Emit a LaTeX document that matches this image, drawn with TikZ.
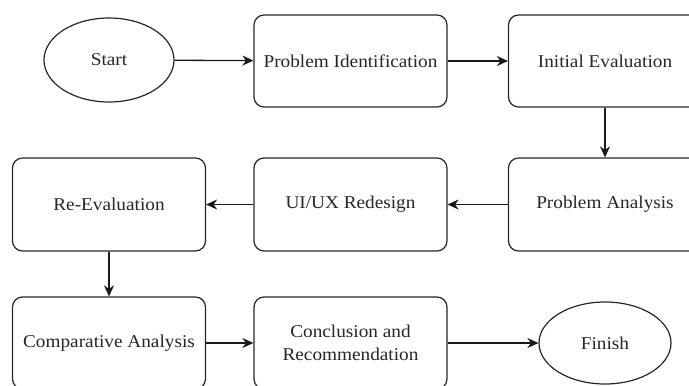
\documentclass[tikz,border=0pt]{standalone}
\usepackage{fontspec}
\setmainfont{Liberation Serif}[FakeStretch=1.07]
\usetikzlibrary{shapes.geometric,arrows.meta}
\tikzset{
  x=1pt,y=-1pt,
  base/.style={draw=black!85,line width=1.2pt,font=\fontsize{18}{23}\selectfont,text=black!85,align=center,inner sep=0pt},
  procbox/.style={base,rectangle,rounded corners=10pt,minimum width=193pt,minimum height=92pt},
  term/.style={base,ellipse,minimum width=130pt,minimum height=84pt},
  conn/.style={draw=black!90,line width=1.3pt,-{Stealth[length=11pt,width=10pt,inset=3.5pt]}}
}
\begin{document}
\begin{tikzpicture}
\useasboundingbox (0,0) rectangle (689,386);
\clip (0,0) rectangle (689,386);
\node[term] (start) at (109,60) {Start};
\node[procbox] (pi) at (350.5,61) {Problem Identification};
\node[procbox] (ie) at (605,61) {Initial Evaluation};
\node[procbox,minimum height=93pt] (pa) at (605,204.5) {Problem Analysis};
\node[procbox,minimum height=93pt] (ui) at (350.5,204.5) {UI/UX Redesign};
\node[procbox,minimum height=93pt] (re) at (109,204.5) {Re-Evaluation};
\node[procbox] (ca) at (109,343) {Comparative Analysis};
\node[procbox] (cr) at (350.5,343) {Conclusion and\\Recommendation};
\node[term,minimum width=132pt,minimum height=82pt] (fin) at (605,343) {Finish};
\draw[conn] (start) -- (pi);
\draw[conn] (pi) -- (ie);
\draw[conn] (ie) -- (pa);
\draw[conn] (pa) -- (ui);
\draw[conn] (ui) -- (re);
\draw[conn] (re.south) -- (ca.north);
\draw[conn] (ca) -- (cr);
\draw[conn] (cr) -- (fin);
\end{tikzpicture}
\end{document}
